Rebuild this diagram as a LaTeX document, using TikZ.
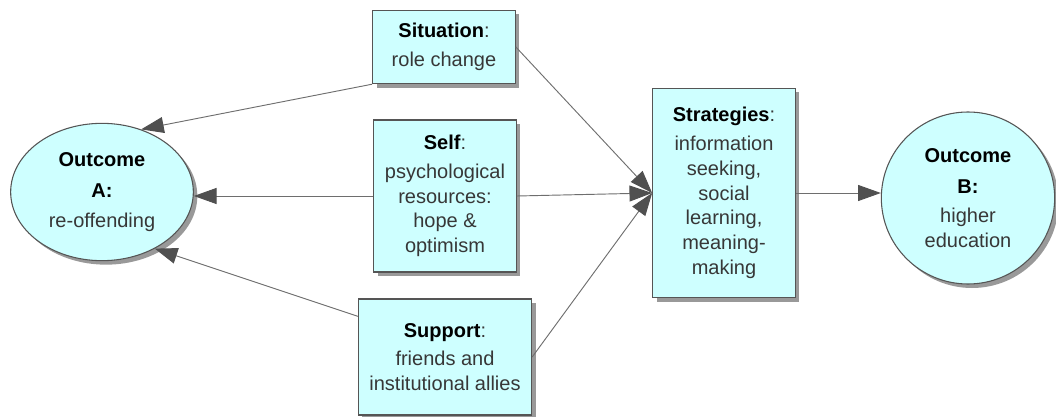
\documentclass[tikz,border=0pt]{standalone}
\usepackage{fontspec}
\setmainfont{Liberation Sans}
\usetikzlibrary{shapes.geometric,shadows,arrows.meta}

\definecolor{boxfill}{RGB}{206,255,255}
\definecolor{edgegray}{RGB}{85,85,85}
\definecolor{txtgray}{RGB}{55,55,55}
\definecolor{linegray}{RGB}{110,110,110}
\definecolor{tipgray}{RGB}{80,80,80}
\newcommand{\hdr}[1]{{\color{black}\bfseries #1}}

\tikzset{
  factor/.style={draw=edgegray, line width=0.8pt, fill=boxfill, inner sep=0pt,
    align=center, text=txtgray, font=\fontsize{15}{18.6}\selectfont,
    drop shadow={shadow xshift=3pt, shadow yshift=-3pt, fill=black!40, opacity=1}},
  outcome/.style={factor, ellipse},
  link/.style={draw=linegray, line width=0.7pt,
    -{Triangle[length=17pt,width=12pt,fill=tipgray,color=tipgray]}}
}

\begin{document}
\begin{tikzpicture}[x=0.75pt, y=-0.75pt]
\useasboundingbox (0,0) rectangle (1056,417);

\node[outcome, minimum width=137pt, minimum height=103pt] (outA) at (102,192)
  {\hdr{Outcome}\\[5pt] \hdr{A:}\\[4pt] re-offending};
\node[outcome, minimum width=130pt, minimum height=129pt] (outB) at (968,198)
  {\hdr{Outcome}\\[5pt] \hdr{B:}\\[3pt] higher\\ education};

\node[factor, minimum width=107pt, minimum height=55pt] (sit) at (444,47)
  {\hdr{Situation}:\\[3pt] role change};
\node[factor, minimum width=107pt, minimum height=114pt] (self) at (445,196)
  {\hdr{Self}:\\[3pt] psychological\\ resources:\\ hope \&\\ optimism};
\node[factor, minimum width=130pt, minimum height=87pt] (sup) at (445,357)
  {\hdr{Support}:\\[3pt] friends and\\ institutional allies};
\node[factor, minimum width=107pt, minimum height=157pt] (strat) at (724,193)
  {\hdr{Strategies}:\\[3pt] information\\ seeking,\\ social\\ learning,\\ meaning-\\ making};

\draw[link] (sit.south west) -- (outA.58);
\draw[link] (self.west) -- (self.west -| outA.east);
\draw[link] (sup.155) -- (outA.-47);
\draw[link] (sit.east) -- (strat.west);
\draw[link] (self.east) -- (strat.west);
\draw[link] (sup.east) -- (strat.west);
\draw[link] (strat.east) -- (strat.east -| outB.west);
\end{tikzpicture}
\end{document}
